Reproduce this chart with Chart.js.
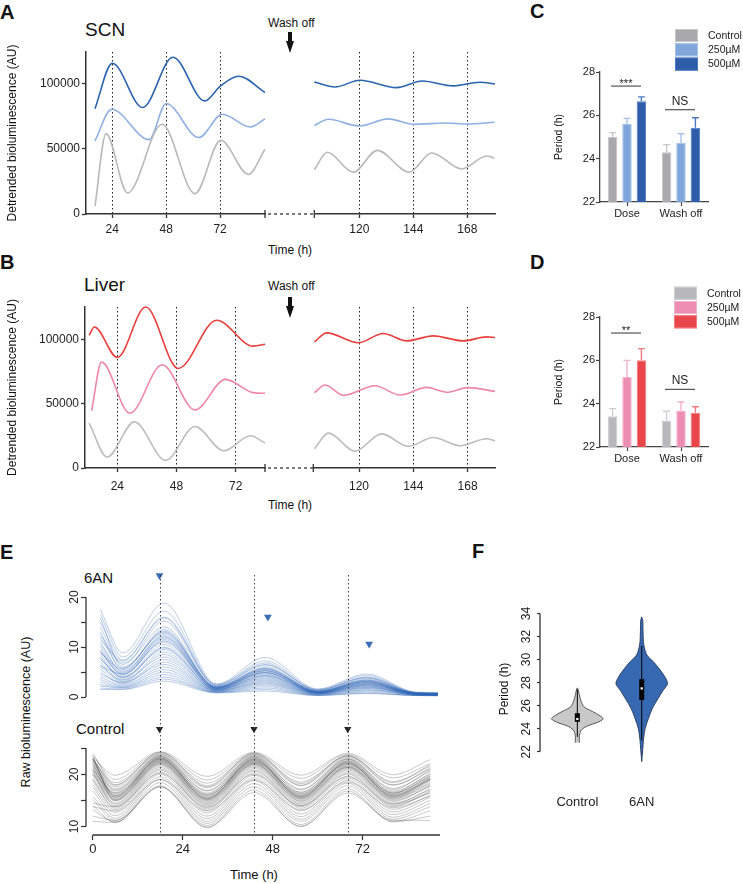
<!DOCTYPE html>
<html><head><meta charset="utf-8">
<script src="https://cdn.jsdelivr.net/npm/chart.js@4.4.1/dist/chart.umd.min.js"></script>
<style>
html,body{margin:0;padding:0;background:#fff;}
#fig{position:relative;width:743px;height:884px;overflow:hidden;font-family:"Liberation Sans",Arial,Helvetica,sans-serif;color:#111;}
#fig canvas{position:absolute;}
.t{position:absolute;white-space:nowrap;line-height:1;}
.lbl{font-weight:bold;font-size:20px;}
.ctr{transform:translateX(-50%);}
.rot{transform:translate(-50%,-50%) rotate(-90deg);}
.shaft{position:absolute;background:#111;width:4px;}
.head{position:absolute;width:0;height:0;border-left:4.5px solid transparent;border-right:4.5px solid transparent;border-top:12px solid #111;}
</style></head><body>
<div id="fig">
  <div class="t lbl" style="left:0;top:2.4px">A</div>
  <div class="t" style="left:85px;top:20px;font-size:19px">SCN</div>
  <div class="t" style="left:268px;top:16.5px;font-size:12px">Wash off</div>
  <div class="shaft" style="left:288px;top:32px;height:10px"></div>
  <div class="head" style="left:285.5px;top:41px"></div>
  <div class="t ctr" style="left:290px;top:243.5px;font-size:12px">Time (h)</div>

  <div class="t lbl" style="left:0;top:252.4px">B</div>
  <div class="t" style="left:84px;top:275px;font-size:19px">Liver</div>
  <div class="t" style="left:268px;top:280px;font-size:12px">Wash off</div>
  <div class="shaft" style="left:288px;top:297px;height:10px"></div>
  <div class="head" style="left:285.5px;top:306px"></div>
  <div class="t ctr" style="left:290px;top:498.5px;font-size:12px">Time (h)</div>

  <div class="t lbl" style="left:530px;top:0.7px">C</div>
  <div class="t lbl" style="left:530px;top:252.4px">D</div>

  <div class="t lbl" style="left:0;top:542.4px">E</div>
  <div class="t" style="left:84px;top:569.7px;font-size:15px">6AN</div>
  <div class="t" style="left:76px;top:720.7px;font-size:15px">Control</div>
  <div class="t rot" style="left:26px;top:712px;font-size:12.5px">Raw bioluminescence (AU)</div>
  <div class="t ctr" style="left:254px;top:868.3px;font-size:13px">Time (h)</div>

  <div class="t lbl" style="left:472px;top:540.7px">F</div>
</div>
<script>
// ================= DATA =================
// Panel A – SCN detrended bioluminescence (hours, AU)
const scn500PreT  = [16.3, 24, 37.5, 51, 65.2, 72, 80.3, 92];
const scn500PreV  = [80800, 115600, 81600, 120200, 86700, 97900, 105600, 93100];
const scn250PreT  = [16.3, 23.7, 40.4, 48, 62.5, 73, 85.5, 92];
const scn250PreV  = [56000, 80300, 57000, 84700, 58600, 76500, 66700, 72900];
const scnCtlPreT  = [16.3, 21.2, 30.8, 46.2, 60.8, 72.3, 84.6, 92];
const scnCtlPreV  = [6100, 61600, 16100, 68800, 15600, 56500, 30400, 49600];
const scn500PostT = [100, 109.2, 120.3, 136.6, 148, 161.8, 173.6, 180.3];
const scn500PostV = [101200, 97400, 102500, 96900, 102000, 98200, 101000, 99700];
const scn250PostT = [100, 106.2, 120, 132.9, 144, 158.8, 167.7, 180];
const scn250PostV = [67800, 72600, 67500, 72900, 68800, 69800, 69000, 70300];
const scnCtlPostT = [100, 105.8, 117.3, 128, 142.2, 152.2, 165.5, 176.6, 180];
const scnCtlPostV = [34000, 47300, 32000, 48800, 32000, 46800, 34500, 44500, 42700];

// Panel B – Liver
const liv500PreT  = [12.6, 14.7, 24, 35.5, 48.7, 64.3, 79.1, 83.9];
const liv500PreV  = [103100, 109500, 85800, 125000, 77300, 114700, 94600, 96100];
const liv250PreT  = [13.6, 17.6, 29.1, 42.2, 55.5, 67.9, 79.1, 83.9];
const liv250PreV  = [44600, 82200, 42500, 80200, 45100, 68800, 58500, 58000];
const livCtlPreT  = [12.6, 19.9, 30.9, 43.6, 55.5, 67.2, 78, 83.9];
const livCtlPreV  = [34800, 8500, 35800, 5900, 32200, 13400, 25000, 19300];
const liv500PostT = [100.3, 105.7, 119.7, 130.7, 141.1, 152.8, 166.1, 176.4, 180.1];
const liv500PostV = [97900, 104900, 97200, 104400, 98700, 102600, 98700, 101800, 101300];
const liv250PostT = [100.3, 105, 113.1, 127.1, 138.1, 149.9, 158.7, 168.3, 180.1];
const liv250PostV = [58500, 64400, 56400, 63900, 56700, 62600, 58800, 62400, 59500];
const livCtlPostT = [100.3, 106.5, 118.2, 130, 141.8, 152.8, 164.6, 176.4, 180.1];
const livCtlPostV = [14900, 27100, 13100, 26500, 16800, 23700, 17300, 22700, 21100];

const preTicks = [24, 48, 72];
const postTicks = [120, 144, 168];
const detrendTicks = [0, 50000, 100000];

// Panels C, D – period (h), mean and upper error
const periodCats = ['Dose', 'Wash off'];
const doseLabels = ['Control', '250µM', '500µM'];
const scnPerCtl = [25.0, 24.3],  scnErrCtl = [0.2, 0.35];
const scnPer250 = [25.6, 24.74], scnErr250 = [0.26, 0.41];
const scnPer500 = [26.65, 25.43], scnErr500 = [0.2, 0.46];
const livPerCtl = [23.42, 23.22], livErrCtl = [0.35, 0.43];
const livPer250 = [25.23, 23.69], livErr250 = [0.77, 0.39];
const livPer500 = [26.0, 23.58],  livErr500 = [0.54, 0.28];
const scnSig = [{cat: 0, y: 27.35, text: '***'}, {cat: 1, y: 26.26, text: 'NS'}];
const livSig = [{cat: 0, y: 27.26, text: '**'},  {cat: 1, y: 24.66, text: 'NS'}];

// Panel E – raw bioluminescence traces (representative traces read from the bundles)
const anTimes = [2, 8, 19, 33, 46, 60, 73, 86, 92];
const anTraces = [
  [17.5, 8.8, 18.8, 2.6, 7.9, 1.6, 4.6, 1.0, 0.9],
  [16.5, 8.0, 17.2, 2.4, 7.2, 1.5, 4.3, 0.9, 0.8],
  [15.0, 7.4, 16.0, 2.5, 6.8, 1.3, 4.0, 0.9, 0.8],
  [14.0, 6.5, 15.2, 2.2, 6.4, 1.4, 3.8, 0.8, 0.7],
  [12.5, 6.8, 14.0, 2.0, 6.0, 1.2, 3.6, 0.9, 0.8],
  [13.0, 5.5, 13.2, 2.1, 5.8, 1.1, 3.3, 0.7, 0.6],
  [11.0, 5.0, 12.5, 1.9, 5.5, 1.0, 3.2, 0.8, 0.7],
  [10.0, 4.8, 12.0, 1.8, 5.2, 1.2, 3.0, 0.7, 0.6],
  [9.5, 4.2, 11.5, 1.7, 5.0, 0.9, 2.9, 0.6, 0.5],
  [9.0, 4.5, 11.0, 1.8, 4.8, 1.0, 2.8, 0.7, 0.6],
  [8.5, 3.8, 10.5, 1.6, 4.6, 0.9, 2.6, 0.6, 0.5],
  [8.0, 3.5, 10.0, 1.5, 4.4, 0.8, 2.5, 0.6, 0.5],
  [7.5, 4.0, 9.5, 1.6, 4.2, 0.9, 2.4, 0.7, 0.6],
  [7.0, 3.2, 9.0, 1.4, 4.0, 0.8, 2.3, 0.5, 0.5],
  [6.5, 3.0, 8.5, 1.4, 3.8, 0.7, 2.2, 0.6, 0.5],
  [6.0, 3.4, 8.0, 1.5, 3.6, 0.8, 2.1, 0.5, 0.4],
  [5.5, 2.8, 7.5, 1.3, 3.4, 0.7, 2.0, 0.5, 0.4],
  [5.0, 2.6, 7.0, 1.2, 3.2, 0.6, 1.9, 0.5, 0.4],
  [4.5, 2.9, 6.5, 1.3, 3.0, 0.7, 1.8, 0.6, 0.5],
  [4.0, 2.4, 6.0, 1.2, 2.8, 0.6, 1.7, 0.4, 0.4],
  [3.5, 2.2, 5.5, 1.1, 2.6, 0.5, 1.5, 0.4, 0.3],
  [3.0, 2.0, 5.0, 1.0, 2.4, 0.5, 1.4, 0.4, 0.3],
  [2.5, 1.9, 4.5, 1.0, 2.1, 0.4, 1.2, 0.4, 0.3],
  [2.2, 1.8, 4.0, 0.9, 1.8, 0.4, 1.0, 0.3, 0.3],
  [1.8, 1.6, 3.6, 0.9, 1.5, 0.3, 0.8, 0.3, 0.3],
  [1.5, 1.5, 3.2, 0.8, 1.2, 0.3, 0.7, 0.3, 0.2],
  [11.5, 7.2, 15.8, 2.3, 6.5, 1.4, 3.9, 0.8, 0.7],
  [15.8, 6.0, 12.8, 2.0, 5.6, 1.1, 3.4, 0.7, 0.6],
  [8.8, 5.6, 13.5, 1.9, 5.3, 1.0, 3.1, 0.7, 0.6],
  [6.2, 4.6, 11.8, 1.7, 4.9, 0.9, 2.7, 0.6, 0.5],
  [10.5, 5.2, 12.2, 1.8, 5.3, 1.0, 3.1, 0.7, 0.6],
  [9.2, 4.6, 11.2, 1.7, 4.9, 0.9, 2.9, 0.6, 0.5],
  [12.0, 5.8, 13.0, 2.0, 5.7, 1.1, 3.4, 0.8, 0.7],
  [7.8, 3.9, 9.8, 1.5, 4.3, 0.8, 2.5, 0.6, 0.5]
];
const ctlTimes = [0, 6, 18, 30.5, 43, 55.5, 68, 80, 90];
const ctlTraces = [
  [23.2, 19.8, 24.3, 19.6, 24.2, 19.8, 24.0, 19.9, 22.8],
  [23.6, 19.0, 24.1, 18.9, 24.0, 19.2, 23.8, 19.3, 22.0],
  [22.8, 18.4, 23.8, 18.3, 23.7, 18.5, 23.4, 18.6, 21.5],
  [23.0, 17.6, 23.6, 17.4, 23.5, 17.8, 23.2, 17.9, 21.2],
  [22.4, 17.0, 23.3, 16.9, 23.2, 17.2, 22.8, 17.3, 20.6],
  [21.6, 16.5, 23.2, 16.4, 23.0, 16.6, 22.6, 16.8, 20.0],
  [22.0, 16.0, 23.0, 16.0, 22.8, 16.2, 22.4, 16.4, 19.5],
  [21.0, 15.8, 22.8, 15.6, 22.6, 15.9, 22.2, 16.0, 19.0],
  [20.6, 15.4, 22.6, 15.3, 22.4, 15.6, 21.8, 15.8, 18.8],
  [21.4, 15.2, 22.4, 15.1, 22.2, 15.4, 21.6, 15.6, 18.2],
  [20.0, 14.9, 22.2, 14.8, 22.0, 15.1, 21.4, 15.3, 18.5],
  [19.8, 14.5, 22.0, 14.4, 21.8, 14.8, 21.2, 15.0, 17.6],
  [19.2, 14.3, 21.8, 14.2, 21.6, 14.5, 21.0, 14.8, 17.8],
  [20.5, 14.0, 21.6, 14.0, 21.4, 14.3, 20.8, 14.5, 17.0],
  [18.6, 13.8, 21.3, 13.7, 21.1, 14.0, 20.5, 14.3, 17.2],
  [19.0, 13.5, 21.0, 13.4, 20.8, 13.8, 20.2, 14.0, 16.5],
  [18.0, 13.2, 20.8, 13.1, 20.6, 13.5, 20.0, 13.8, 16.8],
  [17.5, 12.7, 20.4, 12.6, 20.2, 13.0, 19.6, 13.3, 16.0],
  [16.8, 12.1, 20.0, 12.0, 19.8, 12.4, 19.2, 12.8, 15.6],
  [15.8, 11.6, 19.5, 11.5, 19.3, 11.9, 18.8, 12.3, 15.0],
  [15.2, 11.2, 19.0, 11.0, 18.8, 11.4, 18.3, 11.8, 14.4],
  [14.0, 10.8, 18.4, 10.6, 18.2, 11.0, 17.8, 11.4, 13.8],
  [13.2, 10.9, 17.8, 10.2, 17.6, 10.4, 17.2, 11.0, 13.0],
  [12.0, 11.2, 17.6, 9.9, 17.0, 10.0, 16.8, 10.9, 12.0],
  [11.0, 10.8, 17.6, 9.8, 16.5, 10.1, 16.4, 11.2, 11.2],
  [24.0, 18.0, 24.2, 17.8, 24.0, 18.2, 23.6, 18.4, 21.8],
  [22.8, 15.6, 22.5, 15.5, 22.3, 15.8, 21.9, 16.1, 19.2],
  [23.4, 15.0, 22.0, 15.0, 21.9, 15.3, 21.3, 15.5, 18.9],
  [14.5, 13.8, 20.2, 13.7, 20.0, 14.0, 19.5, 14.3, 16.4],
  [13.8, 13.0, 19.0, 13.0, 18.9, 13.2, 18.5, 13.6, 15.8],
  [22.2, 16.8, 23.4, 16.2, 23.3, 16.5, 22.9, 16.6, 20.2],
  [21.8, 16.2, 23.1, 15.8, 23.0, 16.0, 22.5, 16.3, 19.6],
  [22.6, 17.2, 23.5, 16.8, 23.4, 17.0, 23.0, 17.1, 20.8],
  [21.2, 15.6, 22.9, 15.4, 22.7, 15.7, 22.1, 15.9, 19.3],
  [20.8, 16.4, 22.7, 16.0, 22.5, 16.3, 22.0, 16.4, 19.8],
  [23.0, 15.9, 23.0, 15.2, 22.9, 15.5, 22.3, 15.7, 19.1],
  [20.2, 15.1, 22.3, 14.6, 22.1, 14.9, 21.5, 15.2, 18.0],
  [22.9, 17.9, 23.9, 17.6, 23.8, 17.9, 23.5, 18.0, 21.0]
];
const anPeakT = [17.8, 46.7, 73.7];   // blue arrowheads (6AN peaks)
const anPeakY = [24.3, 16.0, 10.6];
const ctlPeakT = [17.8, 43, 68];      // control peaks (dotted lines, black arrowheads)
const ctlMarkY = [28.6, 28.6, 28.6];
const eTimeTicks = [0, 24, 48, 72];
const anYTicks = [0, 5, 10, 15, 20];
const ctlYTicks = [10, 15, 20, 25];

// Panel F – violin plots of period (h)
const fCats = ['Control', '6AN'];
const ctlLevels = [22.8, 23.0, 23.45, 23.9, 24.25, 24.55, 24.85, 25.1, 25.5, 25.9, 26.5, 27.0, 27.5];
const ctlDensity = [0.08, 0.08, 0.08, 0.16, 0.39, 0.78, 1, 0.9, 0.59, 0.26, 0.13, 0.07, 0.02];
const anLevels = [21.15, 22.2, 23.1, 24.0, 24.9, 25.8, 26.6, 27.3, 27.9, 28.5, 29.2, 29.8, 30.4, 31.3, 32.5, 33.4, 33.7];
const anDensity = [0, 0.04, 0.07, 0.13, 0.26, 0.42, 0.63, 0.82, 1, 0.9, 0.68, 0.46, 0.2, 0.08, 0.05, 0.04, 0];
const fWhiskLo = [23.3, 23.0], fWhiskHi = [27.4, 31.2];
const fBoxLo = [24.6, 26.5], fBoxHi = [25.35, 28.3];
const fMedian = [24.85, 27.5];
const fTicks = [22, 24, 26, 28, 30, 32, 34];

// ================= SETUP =================
Chart.defaults.font.family = '"Liberation Sans", Arial, Helvetica, sans-serif';
Chart.defaults.color = '#222';
Chart.defaults.animation = false;
Chart.defaults.events = [];
Chart.defaults.responsive = false;
Chart.defaults.maintainAspectRatio = false;
Chart.defaults.plugins.legend.display = false;
Chart.defaults.plugins.tooltip.enabled = false;

const FONT = '"Liberation Sans", Arial, Helvetica, sans-serif';
function makeCanvas(left, top, w, h) {
  const c = document.createElement('canvas');
  c.width = w; c.height = h;
  c.style.left = left + 'px'; c.style.top = top + 'px';
  c.style.width = w + 'px'; c.style.height = h + 'px';
  document.getElementById('fig').appendChild(c);
  return c;
}
const pts = (t, v) => t.map((x, i) => ({x, y: v[i]}));
const setTicks = arr => s => { s.ticks = arr.map(v => ({value: v})); };

// broken-axis decoration (end caps + dashed link)
const breakAxisPlugin = {
  id: 'breakAxis',
  afterDraw(chart, args, opts) {
    if (!opts.side) return;
    const {ctx, chartArea: a} = chart;
    const y = a.bottom;
    ctx.save();
    ctx.strokeStyle = '#333'; ctx.lineWidth = 1.3;
    const xc = opts.side === 'right' ? a.right : a.left;
    ctx.beginPath(); ctx.moveTo(xc, y - 4); ctx.lineTo(xc, y + 4); ctx.stroke();
    if (opts.side === 'right') {
      ctx.setLineDash([3, 3]);
      ctx.beginPath(); ctx.moveTo(a.right + 3, y); ctx.lineTo(a.right + opts.gap, y); ctx.stroke();
    }
    ctx.restore();
  }
};

function timeChart(canvas, cfg) {
  return new Chart(canvas, {
    type: 'line',
    data: { datasets: cfg.series.map(s => ({
      data: pts(s.t, s.v), borderColor: s.color, borderWidth: 1.6, pointRadius: 0, clip: false,
      cubicInterpolationMode: 'monotone', fill: false })) },
    options: {
      layout: { padding: { top: 12, left: cfg.padLeft, right: cfg.padRight, bottom: 0 } },
      plugins: { breakAxis: { side: cfg.side, gap: cfg.padRight } },
      scales: {
        x: { type: 'linear', min: cfg.xMin, max: cfg.xMax,
             afterBuildTicks: setTicks(cfg.xTicks),
             afterFit: s => { s.height = cfg.xHeight; },
             ticks: { autoSkip: false, maxRotation: 0, font: { size: 12 }, color: '#222', padding: cfg.xPad, callback: v => String(v) },
             grid: { drawOnChartArea: true, color: '#222', lineWidth: 1, tickLength: 4, tickColor: '#333', tickWidth: 1.3 },
             border: { display: true, color: '#333', width: 1.5, dash: [1.5, 2.5] } },
        y: { display: cfg.showY, min: 0, max: cfg.yMax,
             afterBuildTicks: setTicks(detrendTicks),
             afterFit: s => { s.width = cfg.yWidth; },
             ticks: { font: { size: 12 }, color: '#222', padding: 2, callback: v => String(v) },
             grid: { drawOnChartArea: false, tickLength: 4, tickColor: '#333', tickWidth: 1.3 },
             border: { display: true, color: '#333', width: 1.5 },
             title: { display: true, text: 'Detrended bioluminescence (AU)', font: { size: 12 }, color: '#111', padding: { top: 5, bottom: 0 } } }
      }
    },
    plugins: [breakAxisPlugin]
  });
}

const SCN = { c500: '#2c63b0', c250: '#8fb0e2', ctl: '#b9b9b9' };
const LIV = { c500: '#e8403e', c250: '#ef86a9', ctl: '#bdbdbd' };

// Panel A
timeChart(makeCanvas(0, 40, 314, 200), {
  series: [ {t: scnCtlPreT, v: scnCtlPreV, color: SCN.ctl}, {t: scn250PreT, v: scn250PreV, color: SCN.c250}, {t: scn500PreT, v: scn500PreV, color: SCN.c500} ],
  xMin: 12.3, xMax: 92, xTicks: preTicks, yMax: 124200, showY: true, yWidth: 86,
  padLeft: 0, padRight: 49, side: 'right', xHeight: 26, xPad: 4 });
timeChart(makeCanvas(300, 40, 220, 200), {
  series: [ {t: scnCtlPostT, v: scnCtlPostV, color: SCN.ctl}, {t: scn250PostT, v: scn250PostV, color: SCN.c250}, {t: scn500PostT, v: scn500PostV, color: SCN.c500} ],
  xMin: 100, xMax: 180.3, xTicks: postTicks, yMax: 124200, showY: false, yWidth: 0,
  padLeft: 14.3, padRight: 25, side: 'left', xHeight: 26, xPad: 4 });
// Panel B
timeChart(makeCanvas(0, 295, 314, 199), {
  series: [ {t: livCtlPreT, v: livCtlPreV, color: LIV.ctl}, {t: liv250PreT, v: liv250PreV, color: LIV.c250}, {t: liv500PreT, v: liv500PreV, color: LIV.c500} ],
  xMin: 10.9, xMax: 83.9, xTicks: preTicks, yMax: 125000, showY: true, yWidth: 85,
  padLeft: 0, padRight: 49, side: 'right', xHeight: 26, xPad: 7 });
timeChart(makeCanvas(300, 295, 220, 199), {
  series: [ {t: livCtlPostT, v: livCtlPostV, color: LIV.ctl}, {t: liv250PostT, v: liv250PostV, color: LIV.c250}, {t: liv500PostT, v: liv500PostV, color: LIV.c500} ],
  xMin: 99.8, xMax: 180.1, xTicks: postTicks, yMax: 125000, showY: false, yWidth: 0,
  padLeft: 13.3, padRight: 25, side: 'left', xHeight: 26, xPad: 7 });

// ---------- Panels C, D ----------
const errorBarsPlugin = {
  id: 'errorBars',
  afterDatasetsDraw(chart) {
    const {ctx, scales: {y}} = chart;
    chart.data.datasets.forEach((ds, i) => {
      chart.getDatasetMeta(i).data.forEach((bar, j) => {
        const top = y.getPixelForValue(ds.data[j] + ds.err[j]);
        ctx.save(); ctx.strokeStyle = ds.errColor; ctx.lineWidth = 1.4;
        ctx.beginPath(); ctx.moveTo(bar.x, bar.y); ctx.lineTo(bar.x, top);
        ctx.moveTo(bar.x - 3.5, top); ctx.lineTo(bar.x + 3.5, top); ctx.stroke();
        ctx.restore();
      });
    });
  }
};
const sigPlugin = {
  id: 'sigMarks',
  afterDatasetsDraw(chart, args, opts) {
    const {ctx, scales: {x, y}} = chart;
    (opts.items || []).forEach(it => {
      const cx = x.getPixelForValue(it.cat), py = y.getPixelForValue(it.y);
      const star = /^\*+$/.test(it.text);
      ctx.save(); ctx.strokeStyle = '#555'; ctx.lineWidth = 1.2;
      ctx.beginPath(); ctx.moveTo(cx - 16, py); ctx.lineTo(cx + 14, py); ctx.stroke();
      ctx.fillStyle = '#222'; ctx.textAlign = 'center'; ctx.textBaseline = 'alphabetic';
      ctx.font = (star ? 11 : 12) + 'px ' + FONT;
      ctx.fillText(it.text, cx - 1, star ? py + 1 : py - 5);
      ctx.restore();
    });
  }
};
const boxLegendPlugin = {
  id: 'boxLegend',
  afterDraw(chart, args, opts) {
    const {ctx} = chart;
    chart.data.datasets.forEach((ds, i) => {
      const y0 = opts.y + i * 14.3;
      ctx.save();
      ctx.fillStyle = ds.backgroundColor; ctx.fillRect(opts.x, y0, 23, 13);
      ctx.strokeStyle = ds.borderColor; ctx.lineWidth = 1; ctx.strokeRect(opts.x + 0.5, y0 + 0.5, 22, 12);
      ctx.fillStyle = '#222'; ctx.font = '10.5px ' + FONT; ctx.textBaseline = 'middle'; ctx.textAlign = 'left';
      ctx.fillText(ds.label, opts.x + 33, y0 + 7);
      ctx.restore();
    });
  }
};
function periodChart(canvas, cfg) {
  return new Chart(canvas, {
    type: 'bar',
    data: { labels: periodCats, datasets: cfg.groups.map((g, i) => ({
      label: doseLabels[i], data: g.values, err: g.err, errColor: g.edge,
      backgroundColor: g.fill, borderColor: g.edge, borderWidth: 1,
      categoryPercentage: 0.8, barPercentage: 0.66 })) },
    options: {
      layout: { padding: { top: 72, right: 35, left: 0, bottom: 0 } },
      plugins: { sigMarks: { items: cfg.sig }, boxLegend: { x: cfg.legX, y: cfg.legY } },
      scales: {
        x: { afterFit: s => { s.height = 28; },
             ticks: { font: { size: 11 }, color: '#222', padding: 1 },
             grid: { offset: false, drawOnChartArea: false, tickLength: 4, tickColor: '#444', tickWidth: 1.2 },
             border: { color: '#444', width: 1.3 } },
        y: { min: 22, max: 28, afterFit: s => { s.width = 70; },
             ticks: { stepSize: 2, font: { size: 11 }, color: '#222', padding: 1 },
             grid: { drawOnChartArea: false, tickLength: 4, tickColor: '#444', tickWidth: 1.2 },
             border: { color: '#444', width: 1.3 },
             title: { display: true, text: 'Period (h)', font: { size: 10.5 }, color: '#111', padding: { top: 23, bottom: 0 } } }
      }
    },
    plugins: [errorBarsPlugin, sigPlugin, boxLegendPlugin]
  });
}
periodChart(makeCanvas(530, 0, 213, 230), {
  groups: [ {values: scnPerCtl, err: scnErrCtl, fill: '#a9a8ad', edge: '#c6c5c9'},
            {values: scnPer250, err: scnErr250, fill: '#80a7db', edge: '#a7c2e8'},
            {values: scnPer500, err: scnErr500, fill: '#2f5ca9', edge: '#4c79c2'} ],
  sig: scnSig, legX: 145, legY: 29 });
periodChart(makeCanvas(530, 245, 213, 230), {
  groups: [ {values: livPerCtl, err: livErrCtl, fill: '#b8b7bc', edge: '#d0cfd3'},
            {values: livPer250, err: livErr250, fill: '#ee8db2', edge: '#f4b1ca'},
            {values: livPer500, err: livErr500, fill: '#e9464c', edge: '#f07a7e'} ],
  sig: livSig, legX: 144, legY: 41.7 });

// ---------- Panel E ----------
const vlinePlugin = {
  id: 'vlines',
  afterDatasetsDraw(chart, args, opts) {
    const {ctx, chartArea: a, scales: {x}} = chart;
    ctx.save(); ctx.strokeStyle = '#444'; ctx.lineWidth = 1; ctx.setLineDash([1.5, 2.5]);
    (opts.at || []).forEach(h => {
      const px = Math.round(x.getPixelForValue(h)) + 0.5;
      ctx.beginPath(); ctx.moveTo(px, a.top); ctx.lineTo(px, a.bottom); ctx.stroke();
    });
    ctx.restore();
  }
};
const rAxisPlugin = {
  id: 'rAxis',
  afterDraw(chart, args, opts) {
    const {ctx} = chart;
    (opts.lines || []).forEach(l => {
      const s = chart.scales[l.scale];
      const p1 = s.getPixelForValue(l.from), p2 = s.getPixelForValue(l.to);
      ctx.save(); ctx.strokeStyle = '#333'; ctx.lineWidth = 1.3; ctx.beginPath();
      if (s.isHorizontal()) { ctx.moveTo(p1, s.top); ctx.lineTo(p2, s.top); }
      else { ctx.moveTo(s.right, p1); ctx.lineTo(s.right, p2); }
      ctx.stroke(); ctx.restore();
    });
  }
};
const rotYAxis = (ticks, labelled, extra) => Object.assign({
  type: 'linear', position: 'left',
  afterBuildTicks: setTicks(ticks),
  afterFit: s => { s.width = 86; },
  ticks: { autoSkip: false, minRotation: 90, maxRotation: 90, crossAlign: 'center', font: { size: 12 }, color: '#222', padding: 0,
           callback: v => labelled.includes(v) ? String(v) : '' },
  grid: { drawOnChartArea: false, tickLength: 5, tickColor: '#333', tickWidth: 1.2 },
  border: { display: false }
}, extra);

const eDatasets = [];
ctlTraces.forEach(v => eDatasets.push({ yAxisID: 'yB', data: pts(ctlTimes, v), order: 2,
  borderColor: 'rgba(55,55,55,0.27)', borderWidth: 1, pointRadius: 0, cubicInterpolationMode: 'monotone' }));
anTraces.forEach(v => eDatasets.push({ yAxisID: 'yT', data: pts(anTimes, v), order: 2,
  borderColor: 'rgba(45,100,180,0.32)', borderWidth: 1, pointRadius: 0, cubicInterpolationMode: 'monotone' }));
eDatasets.push({ yAxisID: 'yT', data: pts(anPeakT, anPeakY), showLine: false, clip: false, order: 0,
  pointStyle: 'triangle', pointRotation: 180, pointRadius: 4.5, pointBackgroundColor: '#3a6db5', pointBorderColor: '#3a6db5', pointBorderWidth: 0 });
eDatasets.push({ yAxisID: 'yB', data: pts(ctlPeakT, ctlMarkY), showLine: false, clip: false, order: 0,
  pointStyle: 'triangle', pointRotation: 180, pointRadius: 4.2, pointBackgroundColor: '#222', pointBorderColor: '#222', pointBorderWidth: 0 });

new Chart(makeCanvas(0, 560, 450, 324), {
  type: 'line',
  data: { datasets: eDatasets },
  options: {
    layout: { padding: { top: 15, right: 10, left: 0, bottom: 0 } },
    plugins: { vlines: { at: ctlPeakT },
      rAxis: { lines: [ {scale: 'x', from: eTimeTicks[0], to: 92.6},
                        {scale: 'yT', from: anYTicks[0], to: anYTicks[anYTicks.length - 1]},
                        {scale: 'yB', from: ctlYTicks[0], to: ctlYTicks[ctlYTicks.length - 1]} ] } },
    scales: {
      x: { type: 'linear', min: -1.8, max: 92.6,
           afterBuildTicks: setTicks(eTimeTicks),
           afterFit: s => { s.height = 49; },
           ticks: { autoSkip: false, maxRotation: 0, font: { size: 13 }, color: '#222', padding: 2, callback: v => String(v) },
           grid: { drawOnChartArea: false, tickLength: 5, tickColor: '#333', tickWidth: 1.2 },
           border: { display: false } },
      yB: rotYAxis(ctlYTicks, [10, 20], { stack: 'e', stackWeight: 115, min: 8.4, max: 30.35 }),
      yT: rotYAxis(anYTicks, [0, 10, 20], { stack: 'e', stackWeight: 145, min: -4.6, max: 24.4 })
    }
  },
  plugins: [vlinePlugin, rAxisPlugin]
});

// ---------- Panel F ----------
function violinPts(center, levels, dens, maxHalf) {
  const right = levels.map((lv, i) => ({x: center + dens[i] * maxHalf, y: lv}));
  const left = levels.map((lv, i) => ({x: center - dens[i] * maxHalf, y: lv})).reverse();
  return right.concat(left);
}
const fDatasets = [
  { data: violinPts(1, ctlLevels, ctlDensity, 0.4), order: 3, fill: 'shape', backgroundColor: '#c8c8c8', borderColor: '#4a4a4a', borderWidth: 0.9, pointRadius: 0, tension: 0.3 },
  { data: violinPts(2, anLevels, anDensity, 0.4), order: 3, fill: 'shape', backgroundColor: '#3768b2', borderColor: '#26395e', borderWidth: 0.9, pointRadius: 0, tension: 0.3 }
];
[1, 2].forEach((c, i) => {
  fDatasets.push({ data: [{x: c, y: fWhiskLo[i]}, {x: c, y: fWhiskHi[i]}], order: 2, borderColor: '#000', borderWidth: 1, pointRadius: 0 });
  fDatasets.push({ data: [{x: c, y: fBoxLo[i]}, {x: c, y: fBoxHi[i]}], order: 1, borderColor: '#000', borderWidth: 5, borderCapStyle: 'butt', pointRadius: 0 });
});
fDatasets.push({ data: [{x: 1, y: fMedian[0]}, {x: 2, y: fMedian[1]}], order: 0, showLine: false, pointStyle: 'rect', pointRadius: 1.6,
  pointBackgroundColor: '#fff', pointBorderWidth: 0 });

new Chart(makeCanvas(450, 560, 293, 260), {
  type: 'line',
  data: { datasets: fDatasets },
  options: {
    layout: { padding: { top: 50, right: 62, left: 0, bottom: 0 } },
    plugins: { rAxis: { lines: [ {scale: 'y', from: fTicks[0], to: fTicks[fTicks.length - 1]} ] } },
    scales: {
      x: { type: 'linear', min: 0.42, max: 2.61,
           afterBuildTicks: setTicks([1, 2]),
           afterFit: s => { s.height = 52; },
           ticks: { autoSkip: false, maxRotation: 0, font: { size: 13 }, color: '#222', padding: 27, callback: v => fCats[v - 1] },
           grid: { display: false, drawTicks: false }, border: { display: false } },
      y: { min: 20.6, max: 34.3,
           afterBuildTicks: setTicks(fTicks),
           afterFit: s => { s.width = 90; },
           ticks: { autoSkip: false, minRotation: 90, maxRotation: 90, crossAlign: 'center', font: { size: 12 }, color: '#222', padding: 3.6, callback: v => String(v) },
           grid: { drawOnChartArea: false, tickLength: 3, tickColor: '#333', tickWidth: 1.2 },
           border: { display: false },
           title: { display: true, text: 'Period (h)', font: { size: 12 }, color: '#111', padding: { top: 47.8, bottom: 0 } } }
    }
  },
  plugins: [rAxisPlugin]
});
</script>
</body></html>
